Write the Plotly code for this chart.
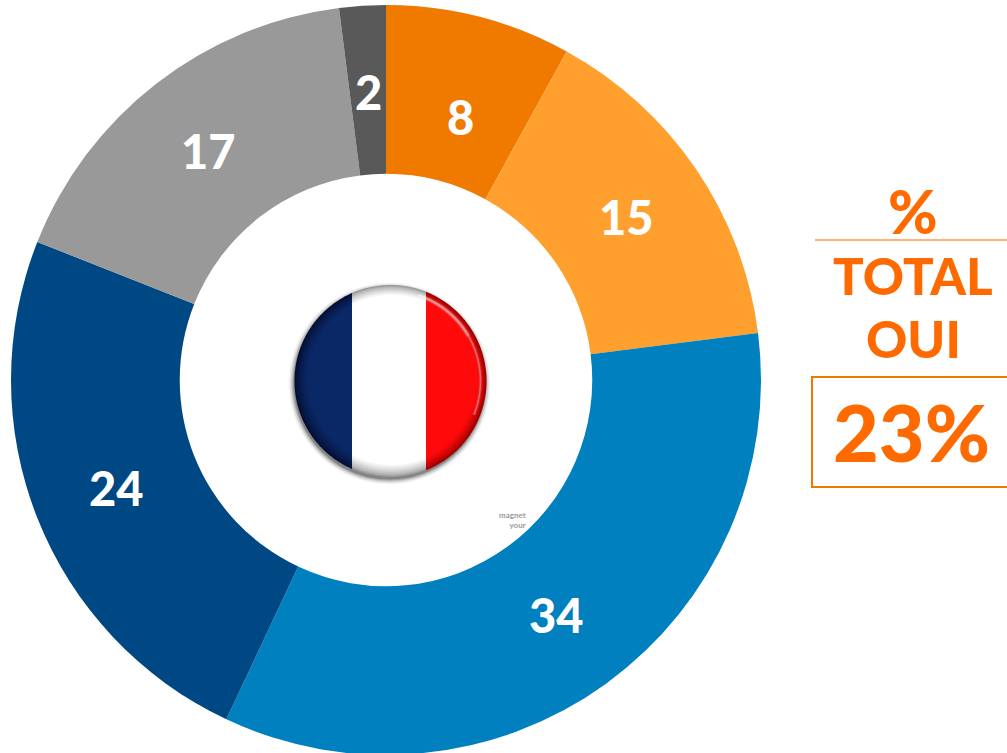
import numpy as np
import plotly.graph_objects as go

W, H = 1007, 756  # the page shows the top 753 px; the ring runs just past the lower edge
values = [8, 15, 34, 24, 17, 2]
slice_colors = ["#F07A00", "#FF9F2E", "#0080BF", "#004884", "#999999", "#595959"]
label_px = [(460, 117), (626, 217), (556, 615), (116, 488), (208, 151), (368, 92)]
side_title = ["%", "TOTAL", "OUI"]
side_value = "23%"
ORANGE = "#FF6A00"
FONT = "Lato"

def px(x): return x / W
def py(y): return 1 - y / H

def poly(pts):
    return "M" + " L".join(f"{px(x):.5f},{py(y):.5f}" for x, y in pts) + " Z"

def openline(pts):
    return "M" + " L".join(f"{px(x):.5f},{py(y):.5f}" for x, y in pts)

def circle(cx, cy, r, n=120):
    t = np.linspace(0, 2*np.pi, n, endpoint=False)
    return list(zip(cx + r*np.cos(t), cy + r*np.sin(t)))

def arc(cx, cy, r, a0, a1, n=60):
    t = np.radians(np.linspace(a0, a1, n))
    return list(zip(cx + r*np.cos(t), cy + r*np.sin(t)))

def stripe(cx, cy, r, x0, x1, n=60):
    a0 = np.arccos(np.clip((x1-cx)/r, -1, 1))
    a1 = np.arccos(np.clip((x0-cx)/r, -1, 1))
    t = np.linspace(a0, a1, n)
    top = list(zip(cx + r*np.cos(t), cy - r*np.sin(t)))
    bot = list(zip(cx + r*np.cos(t[::-1]), cy + r*np.sin(t[::-1])))
    return top + bot

def mix(c0, c1, f):
    return "#" + "".join(f"{int(round(a + (b-a)*f)):02X}" for a, b in zip(c0, c1))

shapes = []
def add(path, fill=None, opacity=1.0, line=None, lw=0):
    shapes.append(dict(type="path", xref="paper", yref="paper", path=path,
                       fillcolor=fill if fill else "rgba(0,0,0,0)",
                       opacity=opacity, layer="above",
                       line=dict(color=line if line else "rgba(0,0,0,0)", width=lw)))

CX, CY, R = 390.5, 381, 96
# soft drop shadow
for dr, op in [(5, .03), (4, .05), (3, .07), (2, .10), (1, .14), (0, .2)]:
    add(poly(circle(CX - 1, CY + 2.5, R + dr)), "#000000", op)
# stripes shaded from the rim inwards
rim = [((4, 14, 48), (10, 40, 102)), ((150, 150, 150), (255, 255, 255)), ((150, 0, 0), (255, 10, 10))]
bounds = [(290, 352), (352, 426), (426, 490)]
steps = 10
for k in range(steps + 1):
    f = k / steps
    r = R - 11 * f
    cx, cy = CX + 1.6 * f, CY - 1.2 * f
    for (c0, c1), (x0, x1) in zip(rim, bounds):
        add(poly(stripe(cx, cy, r, x0, x1)), mix(c0, c1, f ** 0.7))
# gloss on the red stripe
for w, op in [(5, .15), (2.5, .45)]:
    add(openline(arc(CX, CY, R - 6, -72, -30)), None, op, "#FFFFFF", w)
for w, op in [(4, .10), (1.5, .30)]:
    add(openline(arc(CX, CY, R - 6, -30, 22)), None, op, "#FFFFFF", w)
# side panel rules
shapes.append(dict(type="line", xref="paper", yref="paper", x0=px(815), x1=1, y0=py(240), y1=py(240),
                   line=dict(color="#FF6A00", width=1.2), layer="above"))
shapes.append(dict(type="rect", xref="paper", yref="paper", x0=px(812), x1=px(1012), y0=py(377), y1=py(487),
                   line=dict(color="#F07A00", width=2), fillcolor="rgba(0,0,0,0)", layer="above"))

annotations = []
def note(text, x, y, size, color, weight=900, xanchor="center", align="center"):
    annotations.append(dict(text=text, xref="paper", yref="paper", x=px(x), y=py(y),
                            xanchor=xanchor, yanchor="middle", showarrow=False, align=align,
                            font=dict(family=FONT, size=size, color=color, weight=weight)))

for v, (x, y) in zip(values, label_px):
    note(str(v), x, y, 47, "#FFFFFF")
note(side_title[0], 913, 211, 60, ORANGE)
note(side_title[1], 913, 275, 51, ORANGE)
note(side_title[2], 913, 339, 51, ORANGE)
note(side_value, 911, 431, 79, ORANGE)
note("magnet<br>your", 528, 520, 8, "#9A9A9A", 700, "right", "right")

fig = go.Figure(go.Pie(
    values=values, marker=dict(colors=slice_colors, line=dict(width=0)),
    hole=0.55, sort=False, direction="clockwise", rotation=0, textinfo="none",
    hoverinfo="skip", showlegend=False,
    domain=dict(x=[px(11), px(761)], y=[1 - 755 / H, py(5)]),
))
fig.update_layout(width=W, height=H, margin=dict(l=0, r=0, t=0, b=0), autosize=False,
                  paper_bgcolor="#FFFFFF", plot_bgcolor="#FFFFFF",
                  shapes=shapes, annotations=annotations)
fig.write_html("out.html", config=dict(displayModeBar=False),
               post_script="document.body.style.margin='0';document.documentElement.style.overflow='hidden';document.body.style.overflow='hidden';")
